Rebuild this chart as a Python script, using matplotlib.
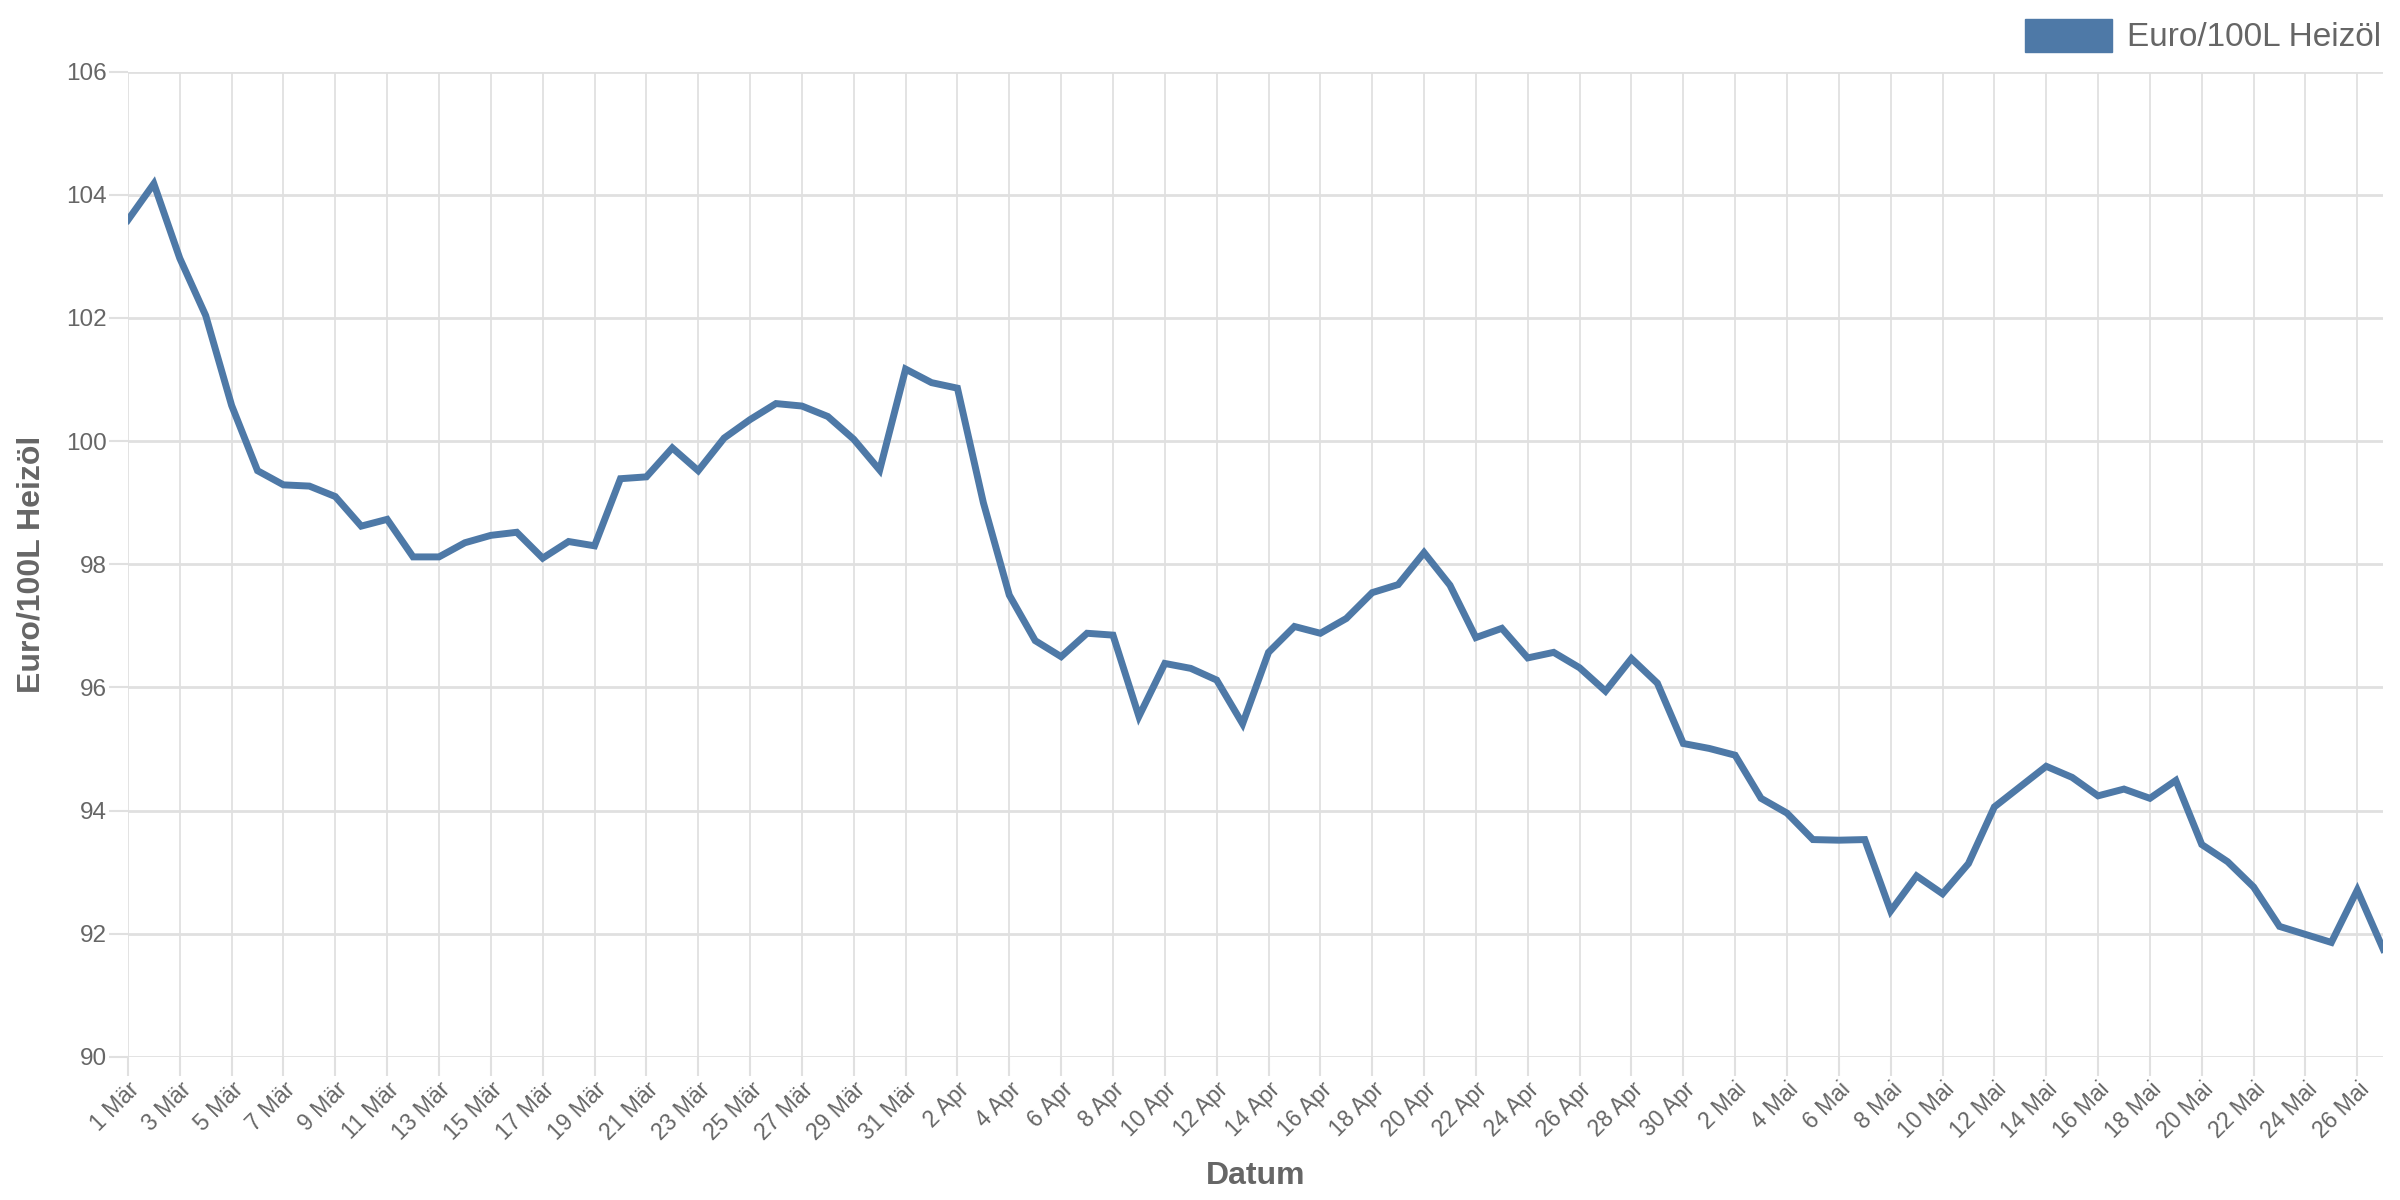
import matplotlib.pyplot as plt
from matplotlib.patches import Patch

plt.rcParams['font.family'] = ['Liberation Sans', 'DejaVu Sans']

# Tagespreise Heizoel, 1. Maerz bis 27. Mai
maerz = [103.59, 104.18, 102.97, 102.04, 100.58, 99.52, 99.29, 99.27, 99.10, 98.62,
         98.73, 98.12, 98.12, 98.35, 98.47, 98.52, 98.10, 98.37, 98.30, 99.39,
         99.42, 99.89, 99.52, 100.05, 100.35, 100.61, 100.57, 100.40, 100.03, 99.53,
         101.17]
april = [100.95, 100.86, 99.00, 97.50, 96.76, 96.50, 96.88, 96.85, 95.53, 96.39,
         96.31, 96.12, 95.41, 96.57, 96.99, 96.88, 97.12, 97.54, 97.67, 98.19,
         97.66, 96.81, 96.96, 96.48, 96.57, 96.32, 95.94, 96.47, 96.07, 95.09]
mai = [95.01, 94.90, 94.20, 93.96, 93.53, 93.52, 93.53, 92.37, 92.94, 92.65,
       93.14, 94.06, 94.39, 94.72, 94.54, 94.24, 94.35, 94.20, 94.49, 93.45,
       93.17, 92.76, 92.12, 91.99, 91.86, 92.71, 91.75]

preise = maerz + april + mai
datum = ([f"{d} Mär" for d in range(1, len(maerz) + 1)]
         + [f"{d} Apr" for d in range(1, len(april) + 1)]
         + [f"{d} Mai" for d in range(1, len(mai) + 1)])
y_ticks = [90, 92, 94, 96, 98, 100, 102, 104, 106]

blau = '#4e79a7'
grau = '#666666'

fig = plt.figure(figsize=(24, 12), dpi=100)
ax = fig.add_axes([0.0533, 0.1192, 0.9397, 0.8211])

x = list(range(len(preise)))
ax.plot(x, preise, color=blau, linewidth=5, solid_joinstyle='miter')

ax.set_xlim(0, len(preise) - 1)
ax.set_ylim(90, 106)
ax.set_yticks(y_ticks)
ax.set_xticks(x[::2])
ax.set_xticklabels(datum[::2], rotation=45, ha='right', rotation_mode='anchor')

ax.grid(axis='y', color='#e0e0e0', linewidth=2.0)
ax.grid(axis='x', color='#e3e3e3', linewidth=1.4)
ax.set_axisbelow(True)
for s in ax.spines.values():
    s.set_visible(False)

ax.tick_params(axis='both', colors='#e0e0e0', labelcolor=grau, length=14, width=1.5, pad=1)
ax.tick_params(axis='y', labelsize=17.5)
ax.tick_params(axis='x', labelsize=16.5)

ax.set_xlabel('Datum', fontsize=23, color=grau, fontweight='bold')
ax.set_ylabel('Euro/100L Heizöl', fontsize=23, color=grau, fontweight='bold')
ax.xaxis.set_label_coords(0.5, -0.106)
ax.yaxis.set_label_coords(-0.036, 0.5)

fig.legend(handles=[Patch(color=blau, label='Euro/100L Heizöl')],
           loc='center right', bbox_to_anchor=(0.992, 0.97), frameon=False,
           fontsize=24, handlelength=2.6, handleheight=1.15, handletextpad=0.45,
           borderpad=0, borderaxespad=0, labelcolor=grau)

fig.savefig('out.png', dpi=100)
